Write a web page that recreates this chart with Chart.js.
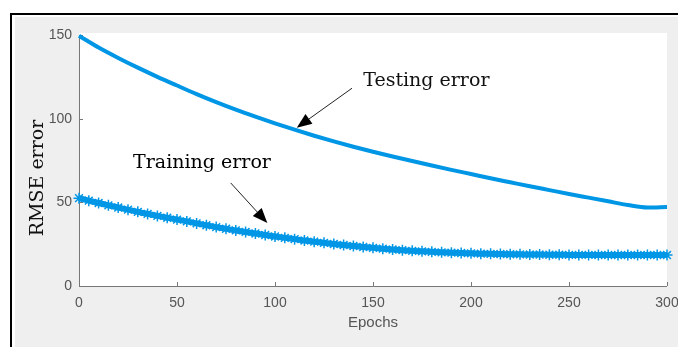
<!DOCTYPE html>
<html>
<head>
<meta charset="utf-8">
<script src="https://cdn.jsdelivr.net/npm/chart.js@4/dist/chart.umd.min.js"></script>
<style>
  html, body { margin: 0; padding: 0; background: #fff; }
  #wrap { width: 678px; height: 347px; position: relative; }
</style>
</head>
<body>
<div id="wrap"><canvas id="myChart" width="678" height="347"></canvas></div>
<script>
// testing error, sampled every 10 epochs
let testEpochs = [0, 10, 20, 30, 40, 50, 60, 70, 80, 90, 100, 110, 120, 130, 140, 150,
                  160, 170, 180, 190, 200, 210, 220, 230, 240, 250, 260, 270, 280, 290, 300];
let testError = [149.5, 142.5, 136.3, 130.5, 125.0, 119.8, 114.7, 109.9, 105.4, 101.2, 97.2,
                 93.4, 89.8, 86.4, 83.2, 80.2, 77.4, 74.7, 72.0, 69.4, 66.9, 64.4, 62.0,
                 59.6, 57.3, 55.0, 52.8, 50.6, 48.4, 46.9, 47.2];

// training error, sampled every 5 epochs
let trainEpochs = [0, 5, 10, 15, 20, 25, 30, 35, 40, 45, 50, 55, 60, 65, 70, 75, 80, 85, 90, 95,
                   100, 105, 110, 115, 120, 125, 130, 135, 140, 145, 150, 155, 160, 165, 170, 175,
                   180, 185, 190, 195, 200, 205, 210, 215, 220, 225, 230, 235, 240, 245, 250, 255,
                   260, 265, 270, 275, 280, 285, 290, 295, 300];
let trainError = [52.5, 51.0, 49.6, 48.2, 46.9, 45.6, 44.3, 43.1, 41.9, 40.8, 39.7, 38.6, 37.4,
                  36.3, 35.2, 34.2, 33.2, 32.3, 31.4, 30.5, 29.6, 28.8, 28.0, 27.2, 26.5, 25.8,
                  25.1, 24.5, 23.9, 23.3, 22.8, 22.3, 21.8, 21.4, 21.0, 20.7, 20.4, 20.1, 19.9,
                  19.7, 19.5, 19.3, 19.2, 19.1, 19.0, 18.9, 18.8, 18.8, 18.7, 18.7, 18.6, 18.6,
                  18.6, 18.5, 18.5, 18.5, 18.5, 18.5, 18.5, 18.5, 18.5];

let xTicks = [0, 50, 100, 150, 200, 250, 300];
let yTicks = [0, 50, 100, 150];

const blue = 'rgb(0,150,230)';

// text labels with arrows, in data units (epoch, error)
const notes = [
  { text: 'Testing error',  at: [145, 119.4], from: [139.3, 118.2], to: [111.1, 94.6] },
  { text: 'Training error', at: [27.6, 70.8], from: [77.4, 61.6],  to: [96.1, 37.6] }
];

const frame = {
  id: 'frame',
  beforeDraw(chart) {
    const { ctx, chartArea: a, width, height } = chart;
    ctx.save();
    ctx.fillStyle = '#fff';
    ctx.fillRect(0, 0, width, height);
    // black outline, top and left only
    ctx.fillStyle = '#000';
    ctx.fillRect(10, 13, width - 10, 2);
    ctx.fillRect(10, 13, 2, height - 13);
    // figure background
    ctx.fillStyle = '#efefef';
    ctx.fillRect(15, 17, width - 15, height - 17);
    // axes background
    ctx.fillStyle = '#fff';
    ctx.fillRect(a.left, a.top - 2, a.right - a.left, a.bottom - a.top + 2);
    ctx.restore();
  },
  beforeDatasetsDraw(chart) {
    const { ctx, chartArea: a, scales } = chart;
    ctx.save();
    ctx.strokeStyle = '#777';
    ctx.lineWidth = 1;
    ctx.beginPath();
    ctx.moveTo(a.left + 0.5, a.top);
    ctx.lineTo(a.left + 0.5, a.bottom + 0.5);
    ctx.lineTo(a.right, a.bottom + 0.5);
    // inward tick marks
    xTicks.forEach(v => {
      const px = Math.round(scales.x.getPixelForValue(v)) + 0.5;
      ctx.moveTo(px, a.bottom);
      ctx.lineTo(px, a.bottom - 4);
    });
    yTicks.forEach(v => {
      const py = Math.round(scales.y.getPixelForValue(v)) + 0.5;
      ctx.moveTo(a.left, py);
      ctx.lineTo(a.left + 4, py);
    });
    ctx.stroke();
    ctx.restore();
  },
  afterDraw(chart) {
    const { ctx, scales } = chart;
    const px = p => [scales.x.getPixelForValue(p[0]), scales.y.getPixelForValue(p[1])];
    ctx.save();
    // y axis title
    ctx.fillStyle = '#111';
    ctx.font = '19px "DejaVu Serif"';
    ctx.translate(43, 178);
    ctx.rotate(-Math.PI / 2);
    ctx.textAlign = 'center';
    ctx.textBaseline = 'alphabetic';
    ctx.fillText('RMSE error', 0, 0);
    ctx.restore();

    ctx.save();
    ctx.font = '19px "DejaVu Serif"';
    ctx.fillStyle = '#111';
    ctx.strokeStyle = '#222';
    ctx.lineWidth = 1;
    notes.forEach(n => {
      const [tx, ty] = px(n.at);
      ctx.fillText(n.text, tx, ty);
      const [x0, y0] = px(n.from);
      const [x1, y1] = px(n.to);
      const ang = Math.atan2(y1 - y0, x1 - x0);
      const len = 15, half = 6;
      const bx = x1 - len * Math.cos(ang), by = y1 - len * Math.sin(ang);
      ctx.beginPath();
      ctx.moveTo(x0, y0);
      ctx.lineTo(bx, by);
      ctx.stroke();
      ctx.beginPath();
      ctx.moveTo(x1, y1);
      ctx.lineTo(bx + half * Math.sin(ang), by - half * Math.cos(ang));
      ctx.lineTo(bx - half * Math.sin(ang), by + half * Math.cos(ang));
      ctx.closePath();
      ctx.fillStyle = '#000';
      ctx.fill();
    });
    ctx.restore();
  }
};

new Chart('myChart', {
  type: 'line',
  data: {
    datasets: [{
      label: 'Testing error',
      data: testEpochs.map((e, i) => ({ x: e, y: testError[i] })),
      borderColor: blue,
      borderWidth: 4,
      pointRadius: 0,
      cubicInterpolationMode: 'monotone',
      clip: false
    }, {
      label: 'Training error',
      data: trainEpochs.map((e, i) => ({ x: e, y: trainError[i] })),
      borderColor: blue,
      borderWidth: 6,
      pointStyle: 'star',
      pointRadius: 5.5,
      pointBorderWidth: 1.5,
      pointBorderColor: blue,
      pointBackgroundColor: blue,
      cubicInterpolationMode: 'monotone',
      clip: false
    }]
  },
  options: {
    responsive: false,
    animation: false,
    devicePixelRatio: 1,
    layout: { padding: { top: 35, right: 0, left: 0, bottom: 0 } },
    plugins: {
      legend: { display: false },
      tooltip: { enabled: false }
    },
    scales: {
      x: {
        type: 'linear',
        min: 0,
        max: 300,
        afterBuildTicks: s => { s.ticks = xTicks.map(v => ({ value: v })); },
        afterFit: s => { s.height = 61; s.paddingLeft = 0; s.paddingRight = 11; },
        grid: { display: false, drawTicks: false },
        border: { display: false },
        ticks: { padding: 9, color: '#555', font: { family: 'Liberation Sans', size: 14 }, maxRotation: 0 },
        title: {
          display: true,
          text: 'Epochs',
          color: '#555',
          font: { family: 'Liberation Sans', size: 15 },
          padding: { top: 0, bottom: 15 }
        }
      },
      y: {
        min: 0,
        max: 150,
        afterBuildTicks: s => { s.ticks = yTicks.map(v => ({ value: v })); },
        afterFit: s => { s.width = 79; },
        grid: { display: false, drawTicks: false },
        border: { display: false },
        ticks: { padding: 7, color: '#555', font: { family: 'Liberation Sans', size: 14 } }
      }
    }
  },
  plugins: [frame]
});
</script>
</body>
</html>
